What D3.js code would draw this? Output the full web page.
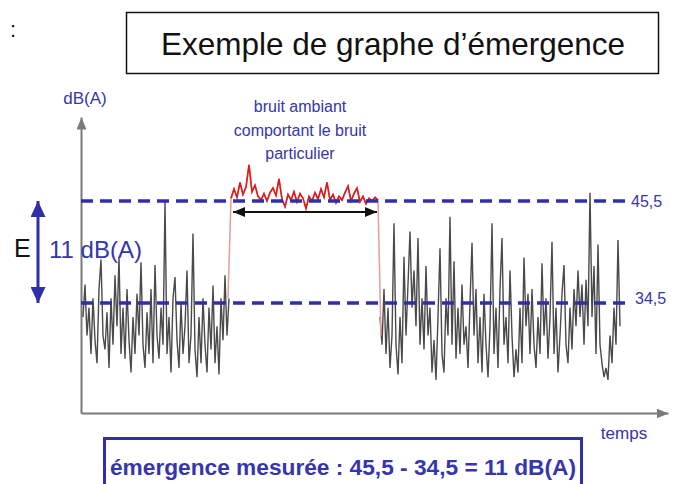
<!DOCTYPE html>
<html>
<head>
<meta charset="utf-8">
<script src="https://cdn.jsdelivr.net/npm/d3@7"></script>
<style>
  body{margin:0;background:#fff;}
  svg{display:block;font-family:"Liberation Sans",Arial,sans-serif;}
</style>
</head>
<body>
<div id="chart"></div>
<script>
// niveaux mesurés (dB(A))
var levels = [45.5, 34.5];
var levelLabels = ["45,5", "34,5"];
var ambientLines = ["bruit ambiant", "comportant le bruit", "particulier"];
var resultText = "émergence mesurée : 45,5 - 34,5 = 11 dB(A)";

// bruit résiduel avant (échantillons réguliers)
var leftStart = 2, leftStep = 2;
var leftValues = [33,36.5,31,34,29,35,30.5,28,36,39.2,31,29.5,33.5,27.5,35,30,37.5,32,39.5,29,
  34,28.5,36,30.5,27,33,29,35.5,31,38.9,30,27.5,33.5,29,36,28,38.6,31,28.5,34,
  30,45.4,29,33,27,35,37.3,30.5,27.5,34.5,29,32,38,28,31,42,29.5,26.5,33,28,
  35,30,27,34,29.5,36.4,28,32,26.8,35,30.5,37.5,31,35];

// bruit ambiant avec bruit particulier (1er et dernier points = transitions)
var redStart = 147, redStep = 3;
var redValues = [35,45.8,46.8,45.9,47.5,46.2,47,49.4,46.5,47.2,46,45.6,46.3,45.5,46.4,46.9,46.1,47.9,45.7,44.9,
  46.2,45.6,46.5,45.4,46.3,45.8,44.7,46,45.5,46.4,45.7,46.8,45.9,47.5,45.6,46.2,45.3,46,45.6,46.4,
  47.1,45.5,46.3,46.9,45.4,46,45.2,45.8,45.5,45.9,45.6,31];

// bruit résiduel après
var rightStart = 299, rightStep = 2;
var rightValues = [33,30,36,29,34,27.5,31,43.1,30,26.8,33,28,39.5,31,36.5,42.2,34,38,32,41.5,
  30,35,29.5,38.5,31,34,27,30.5,26.2,33,40.4,29,27,35,31,43.8,30,39,28.5,34,
  29,36.5,30,32,27.5,34.5,41,31,36,28,33,27,35.5,30,26.5,32,43.1,29,34,27.5,
  36,41.5,30,33,28,38,31,26.5,29.5,27,34,28,39.4,32,35.5,29,36,30,27.5,33,
  29,38.8,31,35,28.5,33,41.1,29,34,27,31,35.5,38.6,30,28,34,29.5,36,32,38,
  33,36.5,30,37,32,46.4,33,38.5,29,40.8,30,28,26.5,27.5,26.2,31,28,34,30,41.3,32];

var width = 680, height = 484;
var blue = "#2f2fa8", textBlue = "#3535b0";

function toPoints(start, step, values){
  return values.map(function(v,i){ return {t:start+i*step, v:v}; });
}

var svg = d3.select("#chart")
    .append("svg")
    .attr("width",width)
    .attr("height",height);

var xScale = d3.scaleLinear()
    .domain([0,587])
    .range([81,668]);

var yScale = d3.scaleLinear()
    .domain([22.64,54.56])
    .range([413,117]);

var defs = svg.append("defs");
function marker(id, color, w, h){
  defs.append("marker")
      .attr("id",id)
      .attr("markerUnits","userSpaceOnUse")
      .attr("viewBox","0 0 "+w+" "+h)
      .attr("refX",w)
      .attr("refY",h/2)
      .attr("markerWidth",w)
      .attr("markerHeight",h)
      .attr("orient","auto-start-reverse")
      .append("path")
      .attr("d","M0,0L"+w+","+(h/2)+"L0,"+h+"Z")
      .attr("fill",color);
}
marker("axisArrow","#7a7a7a",12,10);
marker("eArrow",blue,16,15);
marker("blackArrow","#111",12,10);

// titre
svg.append("rect")
    .attr("x",126.5).attr("y",12.5)
    .attr("width",532).attr("height",61)
    .attr("fill","none").attr("stroke","#111").attr("stroke-width",1.5);
svg.append("text")
    .attr("x",393).attr("y",55)
    .attr("text-anchor","middle")
    .attr("font-size",31.5)
    .attr("fill","#111")
    .text("Exemple de graphe d’émergence");
svg.append("text")
    .attr("x",10).attr("y",37)
    .attr("font-size",22)
    .attr("fill","#111")
    .text(":");

// axes
var yAxis = d3.axisLeft(yScale).tickValues([]).tickSizeOuter(0);
var xAxis = d3.axisBottom(xScale).tickValues([]).tickSizeOuter(0);
svg.append("g")
    .attr("transform","translate("+xScale(0)+",0)")
    .call(yAxis);
svg.append("g")
    .attr("transform","translate(0,"+yScale.range()[0]+")")
    .call(xAxis);
svg.selectAll(".domain")
    .attr("stroke","#7a7a7a")
    .attr("stroke-width",2)
    .attr("marker-end","url(#axisArrow)");

svg.append("text")
    .attr("x",85).attr("y",104)
    .attr("text-anchor","middle")
    .attr("font-size",17)
    .attr("fill",textBlue)
    .text("dB(A)");
svg.append("text")
    .attr("x",624).attr("y",439)
    .attr("text-anchor","middle")
    .attr("font-size",17)
    .attr("fill",textBlue)
    .text("temps");

// signaux
var line = d3.line()
    .x(function(d){ return xScale(d.t); })
    .y(function(d){ return yScale(d.v); });

[[leftStart,leftStep,leftValues],[rightStart,rightStep,rightValues]].forEach(function(s){
  svg.append("path")
      .datum(toPoints(s[0],s[1],s[2]))
      .attr("d",line)
      .attr("fill","none")
      .attr("stroke","#2a2a2a")
      .attr("stroke-width",1.4)
      .attr("stroke-opacity",0.85);
});
var redPoints = toPoints(redStart,redStep,redValues);
svg.append("path")
    .datum(redPoints)
    .attr("d",line)
    .attr("fill","none")
    .attr("stroke","#e89a9a")
    .attr("stroke-width",1.5);
svg.append("path")
    .datum(redPoints.slice(1,redPoints.length-1))
    .attr("d",line)
    .attr("fill","none")
    .attr("stroke","#e01818")
    .attr("stroke-width",1.6);

// niveaux
svg.selectAll(".level")
    .data(levels)
    .enter()
    .append("line")
    .attr("class","level")
    .attr("x1",xScale(0)).attr("x2",xScale(544))
    .attr("y1",function(d){ return yScale(d); })
    .attr("y2",function(d){ return yScale(d); })
    .attr("stroke",blue)
    .attr("stroke-width",3.5)
    .attr("stroke-dasharray","12,7");
svg.selectAll(".levelLabel")
    .data(levels)
    .enter()
    .append("text")
    .attr("class","levelLabel")
    .attr("x",function(d,i){ return i==0 ? 631 : 635; })
    .attr("y",function(d,i){ return yScale(d)+(i==0 ? 6 : 1); })
    .attr("font-size",16)
    .attr("fill",textBlue)
    .text(function(d,i){ return levelLabels[i]; });

// flèche E
svg.append("line")
    .attr("x1",38).attr("x2",38)
    .attr("y1",yScale(levels[0])).attr("y2",yScale(levels[1]))
    .attr("stroke",blue)
    .attr("stroke-width",3)
    .attr("marker-start","url(#eArrow)")
    .attr("marker-end","url(#eArrow)");
svg.append("text")
    .attr("x",14).attr("y",257)
    .attr("font-size",25)
    .attr("fill","#111")
    .text("E");
svg.append("text")
    .attr("x",49).attr("y",258)
    .attr("font-size",24)
    .attr("fill",textBlue)
    .text((levels[0]-levels[1])+" dB(A)");

// flèche durée
svg.append("line")
    .attr("x1",xScale(152)).attr("x2",xScale(296))
    .attr("y1",212).attr("y2",212)
    .attr("stroke","#111")
    .attr("stroke-width",2)
    .attr("marker-start","url(#blackArrow)")
    .attr("marker-end","url(#blackArrow)");

svg.selectAll(".ambient")
    .data(ambientLines)
    .enter()
    .append("text")
    .attr("class","ambient")
    .attr("x",300)
    .attr("y",function(d,i){ return 112+i*23.5; })
    .attr("text-anchor","middle")
    .attr("font-size",16)
    .attr("fill",textBlue)
    .text(function(d){ return d; });

// résultat
svg.append("rect")
    .attr("x",104.5).attr("y",438.5)
    .attr("width",477).attr("height",50)
    .attr("fill","none")
    .attr("stroke",blue)
    .attr("stroke-width",3);
svg.append("text")
    .attr("x",110).attr("y",475)
    .attr("font-size",22.7)
    .attr("font-weight","bold")
    .attr("fill",textBlue)
    .text(resultText);
</script>
</body>
</html>
